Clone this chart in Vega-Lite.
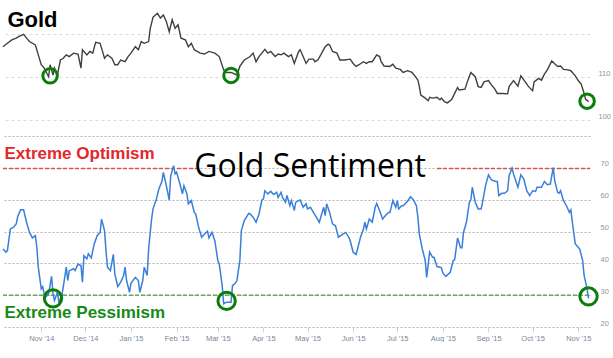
{
  "$schema": "https://vega.github.io/schema/vega-lite/v6.json",
  "padding": 0,
  "background": "#ffffff",
  "spacing": 8,
  "config": {"view": {"stroke": null}, "font": "Liberation Sans", "axis": {"labelOverlap": false, "labelSeparation": 0}, "axisY": {"labelOverlap": false}, "axisRight": {"labelOverlap": false}},
  "datasets": {
    "gold": [
      {"date":"2014-10-06","price":117.1},{"date":"2014-10-09","price":117.9},{"date":"2014-10-12","price":118.7},{"date":"2014-10-15","price":119.1},{"date":"2014-10-17","price":119.5},{"date":"2014-10-20","price":120.0},{"date":"2014-10-22","price":119.1},{"date":"2014-10-24","price":118.3},{"date":"2014-10-28","price":117.5},{"date":"2014-10-30","price":115.2},
      {"date":"2014-11-01","price":112.9},{"date":"2014-11-03","price":112.1},{"date":"2014-11-06","price":110.1},{"date":"2014-11-07","price":112.9},{"date":"2014-11-09","price":110.5},{"date":"2014-11-10","price":112.1},{"date":"2014-11-12","price":110.5},{"date":"2014-11-14","price":114.0},{"date":"2014-11-16","price":114.4},{"date":"2014-11-18","price":115.2},{"date":"2014-11-20","price":114.8},{"date":"2014-11-23","price":115.6},{"date":"2014-11-26","price":115.4},{"date":"2014-11-28","price":112.1},{"date":"2014-11-29","price":116.4},
      {"date":"2014-12-02","price":115.2},{"date":"2014-12-04","price":116.0},{"date":"2014-12-06","price":115.6},{"date":"2014-12-08","price":118.1},{"date":"2014-12-11","price":117.9},{"date":"2014-12-13","price":115.6},{"date":"2014-12-14","price":114.4},{"date":"2014-12-16","price":115.2},{"date":"2014-12-19","price":114.4},{"date":"2014-12-21","price":112.9},{"date":"2014-12-23","price":112.9},{"date":"2014-12-25","price":114.0},{"date":"2014-12-28","price":113.6},{"date":"2014-12-30","price":114.8},
      {"date":"2015-01-01","price":115.6},{"date":"2015-01-04","price":117.1},{"date":"2015-01-06","price":116.4},{"date":"2015-01-08","price":118.3},{"date":"2015-01-10","price":117.9},{"date":"2015-01-13","price":118.3},{"date":"2015-01-14","price":121.2},{"date":"2015-01-16","price":124.0},{"date":"2015-01-19","price":124.9},{"date":"2015-01-21","price":123.8},{"date":"2015-01-23","price":124.5},{"date":"2015-01-25","price":123.0},{"date":"2015-01-27","price":120.6},{"date":"2015-01-29","price":123.4},{"date":"2015-01-31","price":121.4},
      {"date":"2015-02-02","price":122.2},{"date":"2015-02-04","price":119.1},{"date":"2015-02-07","price":118.7},{"date":"2015-02-09","price":117.1},{"date":"2015-02-11","price":117.9},{"date":"2015-02-13","price":116.4},{"date":"2015-02-17","price":115.6},{"date":"2015-02-20","price":115.4},{"date":"2015-02-23","price":116.0},{"date":"2015-02-27","price":115.6},
      {"date":"2015-03-02","price":114.8},{"date":"2015-03-05","price":111.7},{"date":"2015-03-07","price":111.1},{"date":"2015-03-10","price":111.1},{"date":"2015-03-14","price":110.5},{"date":"2015-03-16","price":112.5},{"date":"2015-03-19","price":114.0},{"date":"2015-03-23","price":114.8},{"date":"2015-03-25","price":115.6},{"date":"2015-03-27","price":113.6},{"date":"2015-03-29","price":114.8},
      {"date":"2015-04-02","price":116.5},{"date":"2015-04-04","price":115.6},{"date":"2015-04-06","price":116.0},{"date":"2015-04-09","price":114.8},{"date":"2015-04-11","price":115.4},{"date":"2015-04-13","price":115.2},{"date":"2015-04-15","price":115.6},{"date":"2015-04-18","price":114.8},{"date":"2015-04-20","price":115.2},{"date":"2015-04-22","price":113.2},{"date":"2015-04-25","price":116.0},{"date":"2015-04-26","price":116.4},{"date":"2015-04-28","price":114.8},{"date":"2015-04-30","price":113.2},
      {"date":"2015-05-02","price":114.2},{"date":"2015-05-05","price":114.2},{"date":"2015-05-06","price":113.6},{"date":"2015-05-08","price":114.0},{"date":"2015-05-10","price":115.2},{"date":"2015-05-13","price":117.1},{"date":"2015-05-15","price":117.7},{"date":"2015-05-16","price":117.5},{"date":"2015-05-18","price":116.0},{"date":"2015-05-21","price":115.6},{"date":"2015-05-23","price":114.0},{"date":"2015-05-26","price":114.0},{"date":"2015-05-30","price":114.2},
      {"date":"2015-06-01","price":113.2},{"date":"2015-06-03","price":112.5},{"date":"2015-06-05","price":112.9},{"date":"2015-06-08","price":113.6},{"date":"2015-06-10","price":113.2},{"date":"2015-06-12","price":113.6},{"date":"2015-06-14","price":113.6},{"date":"2015-06-17","price":115.2},{"date":"2015-06-19","price":114.8},{"date":"2015-06-20","price":113.6},{"date":"2015-06-22","price":112.6},{"date":"2015-06-26","price":112.5},{"date":"2015-06-28","price":113.0},{"date":"2015-06-30","price":112.1},
      {"date":"2015-07-03","price":111.8},{"date":"2015-07-05","price":111.1},{"date":"2015-07-08","price":111.5},{"date":"2015-07-11","price":111.1},{"date":"2015-07-13","price":110.3},{"date":"2015-07-15","price":109.3},{"date":"2015-07-16","price":107.8},{"date":"2015-07-17","price":105.8},{"date":"2015-07-20","price":105.1},{"date":"2015-07-22","price":104.5},{"date":"2015-07-23","price":105.3},{"date":"2015-07-25","price":105.1},{"date":"2015-07-28","price":105.3},{"date":"2015-07-30","price":104.7},{"date":"2015-07-31","price":105.1},
      {"date":"2015-08-02","price":104.3},{"date":"2015-08-04","price":104.0},{"date":"2015-08-07","price":104.8},{"date":"2015-08-09","price":106.2},{"date":"2015-08-11","price":107.6},{"date":"2015-08-12","price":107.0},{"date":"2015-08-16","price":107.2},{"date":"2015-08-18","price":109.3},{"date":"2015-08-20","price":111.1},{"date":"2015-08-23","price":110.1},{"date":"2015-08-25","price":107.8},{"date":"2015-08-27","price":107.6},{"date":"2015-08-29","price":108.9},
      {"date":"2015-09-01","price":109.2},{"date":"2015-09-03","price":108.2},{"date":"2015-09-05","price":107.4},{"date":"2015-09-07","price":106.2},{"date":"2015-09-11","price":106.2},{"date":"2015-09-14","price":106.1},{"date":"2015-09-15","price":107.8},{"date":"2015-09-18","price":109.2},{"date":"2015-09-21","price":107.9},{"date":"2015-09-23","price":110.3},{"date":"2015-09-26","price":108.9},{"date":"2015-09-28","price":107.9},
      {"date":"2015-10-01","price":106.8},{"date":"2015-10-02","price":108.9},{"date":"2015-10-05","price":109.7},{"date":"2015-10-07","price":109.3},{"date":"2015-10-09","price":110.7},{"date":"2015-10-11","price":111.7},{"date":"2015-10-14","price":113.8},{"date":"2015-10-16","price":113.1},{"date":"2015-10-18","price":112.5},{"date":"2015-10-20","price":112.6},{"date":"2015-10-22","price":111.8},{"date":"2015-10-25","price":111.7},{"date":"2015-10-27","price":111.5},{"date":"2015-10-30","price":110.3},
      {"date":"2015-11-01","price":109.2},{"date":"2015-11-03","price":108.4},{"date":"2015-11-05","price":106.2},{"date":"2015-11-06","price":104.8},{"date":"2015-11-08","price":104.3}
    ],
    "sentiment": [
      {"date":"2014-10-06","s":44.5},{"date":"2014-10-08","s":43.5},{"date":"2014-10-09","s":44.0},{"date":"2014-10-11","s":50.8},{"date":"2014-10-13","s":51.3},{"date":"2014-10-15","s":52.4},{"date":"2014-10-16","s":54.7},{"date":"2014-10-18","s":56.8},{"date":"2014-10-20","s":56.8},{"date":"2014-10-22","s":52.9},{"date":"2014-10-24","s":49.7},{"date":"2014-10-26","s":48.0},{"date":"2014-10-28","s":48.7},{"date":"2014-10-29","s":45.0},{"date":"2014-10-30","s":38.8},
      {"date":"2014-11-01","s":32.0},{"date":"2014-11-02","s":32.7},{"date":"2014-11-03","s":30.4},{"date":"2014-11-04","s":29.4},{"date":"2014-11-06","s":30.4},{"date":"2014-11-08","s":35.9},{"date":"2014-11-09","s":30.4},{"date":"2014-11-10","s":28.3},{"date":"2014-11-12","s":30.9},{"date":"2014-11-13","s":27.8},{"date":"2014-11-15","s":29.9},{"date":"2014-11-16","s":32.7},{"date":"2014-11-18","s":38.8},{"date":"2014-11-19","s":34.6},{"date":"2014-11-20","s":37.7},{"date":"2014-11-23","s":38.3},{"date":"2014-11-24","s":37.7},{"date":"2014-11-26","s":39.8},{"date":"2014-11-28","s":39.3},{"date":"2014-11-29","s":34.1},{"date":"2014-11-30","s":42.4},
      {"date":"2014-12-02","s":41.4},{"date":"2014-12-03","s":43.0},{"date":"2014-12-05","s":41.7},{"date":"2014-12-07","s":46.1},{"date":"2014-12-09","s":48.7},{"date":"2014-12-11","s":49.7},{"date":"2014-12-12","s":53.9},{"date":"2014-12-14","s":50.3},{"date":"2014-12-15","s":44.0},{"date":"2014-12-16","s":38.8},{"date":"2014-12-18","s":37.7},{"date":"2014-12-20","s":42.8},{"date":"2014-12-21","s":36.7},{"date":"2014-12-23","s":32.7},{"date":"2014-12-25","s":34.1},{"date":"2014-12-27","s":36.2},{"date":"2014-12-28","s":38.8},{"date":"2014-12-29","s":34.6},{"date":"2014-12-31","s":30.9},
      {"date":"2015-01-01","s":33.8},{"date":"2015-01-04","s":35.6},{"date":"2015-01-06","s":34.6},{"date":"2015-01-07","s":30.9},{"date":"2015-01-09","s":34.6},{"date":"2015-01-10","s":38.8},{"date":"2015-01-12","s":36.2},{"date":"2015-01-13","s":44.6},{"date":"2015-01-15","s":53.9},{"date":"2015-01-16","s":57.2},{"date":"2015-01-18","s":59.7},{"date":"2015-01-20","s":63.4},{"date":"2015-01-22","s":65.7},{"date":"2015-01-23","s":68.6},{"date":"2015-01-25","s":64.4},{"date":"2015-01-27","s":59.9},{"date":"2015-01-28","s":67.5},{"date":"2015-01-30","s":70.7},{"date":"2015-01-31","s":68.1},
      {"date":"2015-02-01","s":68.6},{"date":"2015-02-03","s":65.4},{"date":"2015-02-05","s":61.8},{"date":"2015-02-06","s":64.4},{"date":"2015-02-08","s":61.8},{"date":"2015-02-09","s":58.7},{"date":"2015-02-11","s":59.7},{"date":"2015-02-13","s":56.0},{"date":"2015-02-14","s":55.5},{"date":"2015-02-16","s":51.3},{"date":"2015-02-18","s":48.2},{"date":"2015-02-20","s":49.2},{"date":"2015-02-22","s":50.1},{"date":"2015-02-23","s":48.0},{"date":"2015-02-25","s":49.7},{"date":"2015-02-27","s":47.1},
      {"date":"2015-03-01","s":40.9},{"date":"2015-03-02","s":39.8},{"date":"2015-03-04","s":33.0},{"date":"2015-03-05","s":27.3},{"date":"2015-03-07","s":27.8},{"date":"2015-03-10","s":27.8},{"date":"2015-03-11","s":33.0},{"date":"2015-03-13","s":33.8},{"date":"2015-03-14","s":34.6},{"date":"2015-03-16","s":40.9},{"date":"2015-03-17","s":50.3},{"date":"2015-03-19","s":53.4},{"date":"2015-03-22","s":55.7},{"date":"2015-03-23","s":55.5},{"date":"2015-03-25","s":54.5},{"date":"2015-03-27","s":52.9},{"date":"2015-03-29","s":55.5},{"date":"2015-03-31","s":59.9},
      {"date":"2015-04-01","s":60.2},{"date":"2015-04-02","s":62.8},{"date":"2015-04-04","s":61.8},{"date":"2015-04-06","s":62.6},{"date":"2015-04-08","s":61.6},{"date":"2015-04-10","s":62.3},{"date":"2015-04-11","s":60.7},{"date":"2015-04-13","s":62.3},{"date":"2015-04-14","s":60.7},{"date":"2015-04-16","s":59.2},{"date":"2015-04-17","s":61.3},{"date":"2015-04-19","s":58.1},{"date":"2015-04-20","s":59.7},{"date":"2015-04-22","s":56.6},{"date":"2015-04-23","s":59.2},{"date":"2015-04-25","s":59.7},{"date":"2015-04-26","s":59.9},{"date":"2015-04-28","s":57.6},{"date":"2015-04-30","s":58.7},
      {"date":"2015-05-01","s":57.1},{"date":"2015-05-03","s":57.6},{"date":"2015-05-05","s":56.0},{"date":"2015-05-07","s":54.5},{"date":"2015-05-09","s":52.9},{"date":"2015-05-10","s":54.5},{"date":"2015-05-12","s":57.6},{"date":"2015-05-13","s":55.0},{"date":"2015-05-14","s":58.7},{"date":"2015-05-16","s":56.0},{"date":"2015-05-18","s":52.4},{"date":"2015-05-20","s":51.8},{"date":"2015-05-22","s":48.2},{"date":"2015-05-25","s":49.2},{"date":"2015-05-27","s":49.7},{"date":"2015-05-29","s":48.2},{"date":"2015-05-30","s":47.1},
      {"date":"2015-06-01","s":43.5},{"date":"2015-06-03","s":42.8},{"date":"2015-06-04","s":44.5},{"date":"2015-06-06","s":48.2},{"date":"2015-06-08","s":50.8},{"date":"2015-06-09","s":52.9},{"date":"2015-06-10","s":50.8},{"date":"2015-06-12","s":53.9},{"date":"2015-06-14","s":52.9},{"date":"2015-06-16","s":57.6},{"date":"2015-06-17","s":58.8},{"date":"2015-06-19","s":56.6},{"date":"2015-06-21","s":53.9},{"date":"2015-06-23","s":55.0},{"date":"2015-06-25","s":56.0},{"date":"2015-06-26","s":56.0},{"date":"2015-06-28","s":59.7},{"date":"2015-06-30","s":57.6},
      {"date":"2015-07-01","s":59.7},{"date":"2015-07-02","s":57.1},{"date":"2015-07-04","s":58.1},{"date":"2015-07-05","s":58.1},{"date":"2015-07-08","s":59.5},{"date":"2015-07-10","s":60.9},{"date":"2015-07-12","s":59.9},{"date":"2015-07-14","s":58.1},{"date":"2015-07-15","s":54.5},{"date":"2015-07-16","s":49.2},{"date":"2015-07-18","s":44.5},{"date":"2015-07-20","s":40.9},{"date":"2015-07-21","s":35.6},{"date":"2015-07-23","s":43.5},{"date":"2015-07-25","s":41.9},{"date":"2015-07-26","s":41.9},{"date":"2015-07-28","s":39.0},{"date":"2015-07-30","s":38.8},{"date":"2015-07-31","s":38.6},
      {"date":"2015-08-01","s":36.9},{"date":"2015-08-03","s":35.9},{"date":"2015-08-06","s":37.2},{"date":"2015-08-08","s":40.9},{"date":"2015-08-09","s":41.1},{"date":"2015-08-11","s":48.0},{"date":"2015-08-13","s":44.9},{"date":"2015-08-14","s":44.9},{"date":"2015-08-15","s":49.7},{"date":"2015-08-17","s":52.9},{"date":"2015-08-19","s":59.2},{"date":"2015-08-20","s":59.9},{"date":"2015-08-21","s":63.9},{"date":"2015-08-23","s":59.2},{"date":"2015-08-25","s":57.1},{"date":"2015-08-27","s":57.1},{"date":"2015-08-28","s":59.2},{"date":"2015-08-30","s":64.4},
      {"date":"2015-09-01","s":67.8},{"date":"2015-09-03","s":66.2},{"date":"2015-09-06","s":65.7},{"date":"2015-09-07","s":65.7},{"date":"2015-09-08","s":61.3},{"date":"2015-09-10","s":62.0},{"date":"2015-09-12","s":62.0},{"date":"2015-09-14","s":62.8},{"date":"2015-09-15","s":67.5},{"date":"2015-09-17","s":69.9},{"date":"2015-09-18","s":68.1},{"date":"2015-09-21","s":63.9},{"date":"2015-09-23","s":67.8},{"date":"2015-09-25","s":66.5},{"date":"2015-09-27","s":62.8},{"date":"2015-09-29","s":61.3},
      {"date":"2015-10-01","s":62.8},{"date":"2015-10-03","s":62.6},{"date":"2015-10-04","s":63.9},{"date":"2015-10-07","s":63.9},{"date":"2015-10-09","s":65.7},{"date":"2015-10-11","s":64.7},{"date":"2015-10-13","s":64.9},{"date":"2015-10-15","s":70.1},{"date":"2015-10-16","s":66.0},{"date":"2015-10-18","s":62.3},{"date":"2015-10-19","s":62.0},{"date":"2015-10-20","s":62.8},{"date":"2015-10-22","s":59.7},{"date":"2015-10-24","s":58.1},{"date":"2015-10-26","s":56.0},{"date":"2015-10-27","s":56.8},{"date":"2015-10-28","s":52.9},{"date":"2015-10-30","s":46.1},{"date":"2015-10-31","s":45.6},
      {"date":"2015-11-02","s":44.5},{"date":"2015-11-04","s":40.9},{"date":"2015-11-05","s":36.2},{"date":"2015-11-07","s":32.0},{"date":"2015-11-08","s":29.0}
    ]
  },
  "vconcat": [
    {
      "width": 587,
      "height": 120,
      "layer": [
        {
          "data": {"name": "gold"},
          "mark": {"type": "line", "color": "#404040", "strokeWidth": 1.4},
          "encoding": {
            "x": {"field": "date", "type": "temporal", "scale": {"domain": [{"year": 2014, "month": 10, "date": 6, "utc": true}, {"year": 2015, "month": 11, "date": 9, "utc": true}]}, "axis": null},
            "y": {"field": "price", "type": "quantitative", "scale": {"domain": [100, 128], "nice": false, "zero": false},
                  "axis": {"orient": "right", "values": [100, 110, 120], "labelExpr": "datum.value == 120 ? '' : datum.label", "title": null, "domain": false, "ticks": false, "labelPadding": 8, "labelFontSize": 7.5, "labelColor": "#a09488", "labelBaseline": "bottom", "labelOverlap": false, "grid": true, "gridColor": "#dcdcdc", "gridDash": [3, 3]}}
          }
        },
        {
          "data": {"values": [{"date": "2014-11-07", "price": 110.3}, {"date": "2015-03-10", "price": 110.4}, {"date": "2015-11-07", "price": 104.4}]},
          "mark": {"type": "point", "shape": "circle", "filled": false, "stroke": "#0a7d0a", "strokeWidth": 3, "size": 210, "opacity": 1},
          "encoding": {
            "x": {"field": "date", "type": "temporal"},
            "y": {"field": "price", "type": "quantitative"}
          }
        },
        {
          "data": {"values": [{"date": "2014-10-09", "price": 121.8, "label": "Gold"}]},
          "mark": {"type": "text", "align": "left", "baseline": "alphabetic", "fontSize": 22, "fontWeight": "bold", "color": "#000000", "font": "Liberation Sans"},
          "encoding": {
            "x": {"field": "date", "type": "temporal"},
            "y": {"field": "price", "type": "quantitative"},
            "text": {"field": "label"}
          }
        }
      ]
    },
    {
      "width": 587,
      "height": 191,
      "layer": [
        {
          "data": {"values": [
            {"start": "2014-10-06", "end": "2015-02-15", "level": 69.8},
            {"start": "2015-07-28", "end": "2015-11-09", "level": 69.8}
          ]},
          "mark": {"type": "rule", "color": "#e0504f", "strokeWidth": 1.4, "strokeDash": [4, 2]},
          "encoding": {
            "x": {"field": "start", "type": "temporal", "scale": {"domain": [{"year": 2014, "month": 10, "date": 6, "utc": true}, {"year": 2015, "month": 11, "date": 9, "utc": true}]},
                  "axis": {"format": "%b '%y", "tickCount": {"interval": "month", "step": 1}, "title": null, "grid": false, "domain": false, "ticks": true, "tickColor": "#c8d4e3", "tickSize": 5, "labelFontSize": 7.5, "labelColor": "#7a889a", "labelPadding": 2, "labelFlush": false, "labelOverlap": false}},
            "x2": {"field": "end"},
            "y": {"field": "level", "type": "quantitative", "scale": {"domain": [20, 80], "nice": false, "zero": false},
                  "axis": {"orient": "right", "values": [20, 30, 40, 50, 60, 70, 80], "tickCount": 7, "labelExpr": "datum.value == 80 ? '' : datum.label", "title": null, "domain": false, "ticks": false, "labelPadding": 10, "labelFontSize": 7.5, "labelColor": "#a09488", "labelBaseline": "middle", "labelOffset": -4, "labelOverlap": false, "labelSeparation": 0, "grid": true, "gridColor": "#b4b4b4", "gridDash": [2, 2]}}
          }
        },
        {
          "data": {"values": [{"start": "2014-10-06", "end": "2015-11-09", "level": 30}]},
          "mark": {"type": "rule", "color": "#4e9a4e", "strokeWidth": 1.4, "strokeDash": [4, 2]},
          "encoding": {
            "x": {"field": "start", "type": "temporal"},
            "x2": {"field": "end"},
            "y": {"field": "level", "type": "quantitative"}
          }
        },
        {
          "data": {"name": "sentiment"},
          "mark": {"type": "line", "color": "#3a7fd8", "strokeWidth": 1.5},
          "encoding": {
            "x": {"field": "date", "type": "temporal"},
            "y": {"field": "s", "type": "quantitative"}
          }
        },
        {
          "data": {"values": [{"date": "2014-11-09", "s": 29.0}, {"date": "2015-03-07", "s": 28.2}, {"date": "2015-11-08", "s": 29.6}]},
          "mark": {"type": "point", "shape": "circle", "filled": false, "stroke": "#0a7d0a", "strokeWidth": 3, "size": 300, "opacity": 1},
          "encoding": {
            "x": {"field": "date", "type": "temporal"},
            "y": {"field": "s", "type": "quantitative"}
          }
        },
        {
          "data": {"values": [{"date": "2014-10-07", "s": 72.9, "label": "Extreme Optimism"}]},
          "mark": {"type": "text", "align": "left", "baseline": "alphabetic", "fontSize": 17, "fontWeight": "bold", "color": "#e5262b", "font": "Liberation Sans"},
          "encoding": {
            "x": {"field": "date", "type": "temporal"},
            "y": {"field": "s", "type": "quantitative"},
            "text": {"field": "label"}
          }
        },
        {
          "data": {"values": [{"date": "2014-10-07", "s": 22.8, "label": "Extreme Pessimism"}]},
          "mark": {"type": "text", "align": "left", "baseline": "alphabetic", "fontSize": 17, "fontWeight": "bold", "color": "#178a17", "font": "Liberation Sans"},
          "encoding": {
            "x": {"field": "date", "type": "temporal"},
            "y": {"field": "s", "type": "quantitative"},
            "text": {"field": "label"}
          }
        },
        {
          "data": {"values": [{"date": "2015-02-13", "s": 67.0, "label": "Gold Sentiment"}]},
          "mark": {"type": "text", "align": "left", "baseline": "alphabetic", "fontSize": 32, "color": "#000000", "font": "Open Sans"},
          "encoding": {
            "x": {"field": "date", "type": "temporal"},
            "y": {"field": "s", "type": "quantitative"},
            "text": {"field": "label"}
          }
        }
      ]
    }
  ]
}
